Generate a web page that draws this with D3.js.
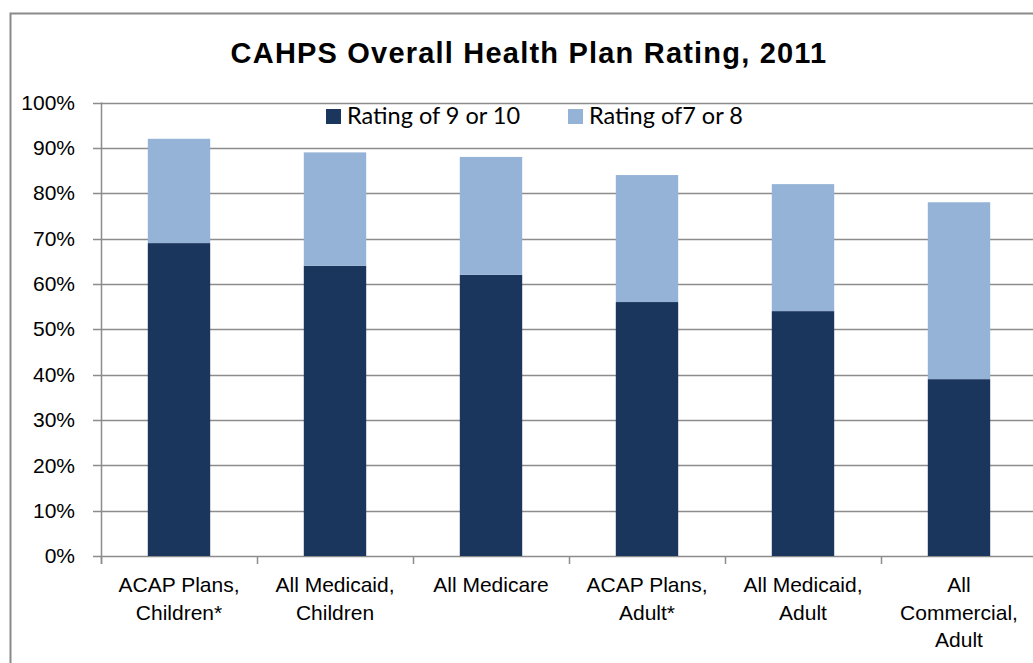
<!DOCTYPE html>
<html>
<head>
<meta charset="utf-8">
<script src="https://cdn.jsdelivr.net/npm/d3@7"></script>
<style>
  body { margin: 0; background: #fff; }
  svg { display: block; }
</style>
</head>
<body>
<div id="chart"></div>
<script>
// chart data
var categories = [
    ["ACAP Plans,", "Children*"],
    ["All Medicaid,", "Children"],
    ["All Medicare"],
    ["ACAP Plans,", "Adult*"],
    ["All Medicaid,", "Adult"],
    ["All", "Commercial,", "Adult"]
];
var rating910 = [69, 64, 62, 56, 54, 39];
var rating78 = [23, 25, 26, 28, 28, 39];
var seriesNames = ["Rating of 9 or 10", "Rating of7 or 8"];
var yTicks = [0, 10, 20, 30, 40, 50, 60, 70, 80, 90, 100];

var width = 1033, height = 663;
var colors = ["#1b365d", "#95b3d7"];
var gridColor = "#8c8c8c";

var svg = d3.select("#chart").append("svg")
    .attr("width", width)
    .attr("height", height);

// outer frame
svg.append("rect")
    .attr("x", 10.5).attr("y", 13.5)
    .attr("width", 1100).attr("height", 700)
    .attr("fill", "none")
    .attr("stroke", "#8a8a8a")
    .attr("stroke-width", 2);

var plotLeft = 101, plotTop = 102.5, plotBottom = 556, plotRight = 1037;

var x = d3.scaleBand()
    .domain(d3.range(categories.length))
    .range([plotLeft, plotRight])
    .paddingInner(0.6)
    .paddingOuter(0.3);

var y = d3.scaleLinear()
    .domain([0, 100])
    .range([plotBottom, plotTop]);

// gridlines
svg.append("g")
    .selectAll("line")
    .data(yTicks)
    .enter().append("line")
    .attr("x1", plotLeft - 8)
    .attr("x2", width)
    .attr("y1", function (d) { return Math.round(y(d)) + 0.5; })
    .attr("y2", function (d) { return Math.round(y(d)) + 0.5; })
    .attr("stroke", gridColor)
    .attr("stroke-width", 1.5);

// y axis labels
var yAxis = d3.axisLeft(y)
    .tickValues(yTicks)
    .tickFormat(function (d) { return d + "%"; })
    .tickSize(0)
    .tickPadding(26);
var yg = svg.append("g")
    .attr("transform", "translate(" + plotLeft + ",0)")
    .call(yAxis);
yg.select(".domain").remove();
yg.selectAll("text")
    .style("font-family", "'Liberation Sans', sans-serif")
    .style("font-size", "21px")
    .attr("fill", "#000");

// stacked bars
var stacked = categories.map(function (c, i) {
    return { i: i, a: rating910[i], b: rating78[i] };
});

svg.append("g").selectAll("rect")
    .data(stacked)
    .enter().append("rect")
    .attr("x", function (d) { return x(d.i); })
    .attr("width", x.bandwidth())
    .attr("y", function (d) { return y(d.a); })
    .attr("height", function (d) { return y(0) - y(d.a); })
    .attr("fill", colors[0]);

svg.append("g").selectAll("rect")
    .data(stacked)
    .enter().append("rect")
    .attr("x", function (d) { return x(d.i); })
    .attr("width", x.bandwidth())
    .attr("y", function (d) { return y(d.a + d.b); })
    .attr("height", function (d) { return y(d.a) - y(d.a + d.b); })
    .attr("fill", colors[1]);

// axis lines
svg.append("line")
    .attr("x1", plotLeft + 0.5).attr("x2", plotLeft + 0.5)
    .attr("y1", plotTop).attr("y2", plotBottom + 8)
    .attr("stroke", gridColor).attr("stroke-width", 1.5);

var step = x.step();
svg.append("g").selectAll("line")
    .data(d3.range(categories.length + 1))
    .enter().append("line")
    .attr("x1", function (d) { return plotLeft + d * step + 0.5; })
    .attr("x2", function (d) { return plotLeft + d * step + 0.5; })
    .attr("y1", plotBottom)
    .attr("y2", plotBottom + 8)
    .attr("stroke", gridColor).attr("stroke-width", 1.5);

// category labels
var labels = svg.append("g");
categories.forEach(function (c, i) {
    var cx = x(i) + x.bandwidth() / 2;
    var t = labels.append("text")
        .attr("x", cx)
        .attr("y", 592)
        .attr("text-anchor", "middle")
        .style("font-family", "'Liberation Sans', sans-serif")
        .style("font-size", "21px")
        .attr("fill", "#000");
    c.forEach(function (line, j) {
        t.append("tspan")
            .attr("x", cx)
            .attr("dy", j === 0 ? 0 : 27.5)
            .text(line);
    });
});

// title
svg.append("text")
    .attr("x", 529)
    .attr("y", 63)
    .attr("text-anchor", "middle")
    .style("font-family", "'Liberation Sans', sans-serif")
    .style("font-weight", "bold")
    .style("font-size", "29px")
    .style("letter-spacing", "1.2px")
    .text("CAHPS Overall Health Plan Rating, 2011");

// legend
var legendX = [326, 568];
var legend = svg.append("g");
seriesNames.forEach(function (name, i) {
    legend.append("rect")
        .attr("x", legendX[i]).attr("y", 109)
        .attr("width", 15).attr("height", 15)
        .attr("fill", colors[i]);
    legend.append("text")
        .attr("x", legendX[i] + 21)
        .attr("y", 124)
        .style("font-family", "Lato, 'Open Sans', sans-serif")
        .style("font-size", "23.5px")
        .text(name);
});
</script>
</body>
</html>
